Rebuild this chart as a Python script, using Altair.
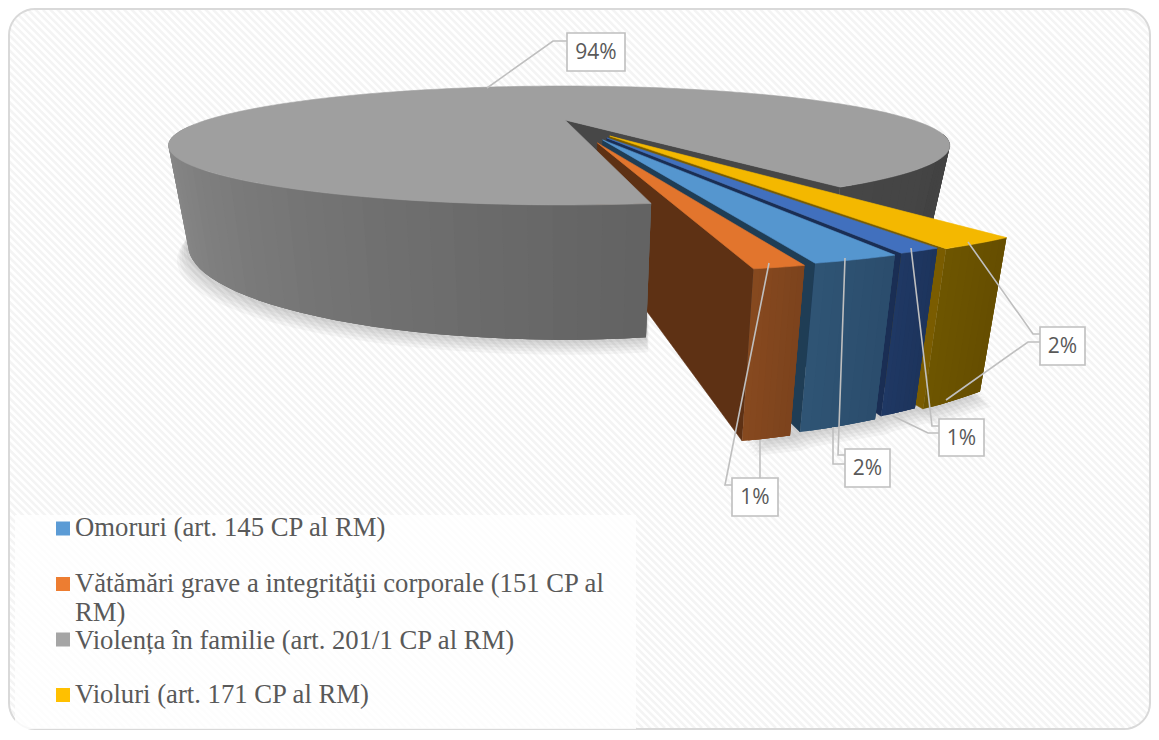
import math
import altair as alt

# ---- values ----
slice_names = ["Vătămări", "Omoruri", "Alte", "Violuri"]
slice_shares = [1.14, 1.92, 0.97, 1.86]
main_share = 94.0
percent_labels = ["94%", "1%", "2%", "1%", "2%"]
legend_lines = [
    "Omoruri (art. 145 CP al RM)",
    "Vătămări grave a integrităţii corporale (151 CP al",
    "RM)",
    "Violența în familie (art. 201/1 CP al RM)",
    "Violuri (art. 171 CP al RM)",
]

# ---- styles and layout ----
W, H = 1143, 722
OX, OY = 8, 8
slice_top = ["#E2752D", "#5596CF", "#4170BE", "#F4B800"]
slice_front = ["#87491F", "#2F5475", "#1F3864", "#6E5500"]
slice_side = ["#5E3114", "#1F3D55", "#1A2E54", "#7A5C00"]
legend_colors = ["#5B9BD5", "#ED7D31", "#A5A5A5", "#FFC000"]
legend_y = [536, 592, 621, 649, 703]
swatch_y = [528.5, 584, None, 639.5, 695]
boxes = [(567, 33, 625, 71), (732, 478, 778, 516), (845, 449, 890, 487),
         (939, 419, 984, 456), (1040, 327, 1085, 365)]
leaders = [
    [(487, 88), (553, 41), (567, 41)],
    [(769, 263), (725, 485), (732, 485)],
    [(760, 440), (760, 478)],
    [(845, 258), (838, 455), (845, 455)],
    [(833, 427), (833, 464), (845, 464)],
    [(911, 248), (932, 426), (939, 426)],
    [(893, 416), (928, 433), (939, 433)],
    [(968, 242), (1033, 334), (1040, 334)],
    [(946, 400), (1028, 342), (1040, 342)],
]

# ---- perspective model of the pie ----
CX, K, A, B, RX = 565, 0.4286, 120, -2.9, 353
explode_dist = [0.40, 0.36, 0.335, 0.31]
explode_dir = [11, 14.6, 17.8, 21]
slice_radius = [0.945, 0.98, 1.0, 1.03]
slice_start = [9.4, 13.1, 19.6, 22.5]
main_mode = True


def top(u, s):
    w = 1 - K * s
    skew = 1.0
    if main_mode:
        skew = 0.985 if u > 0 else 1.015
    return (CX + RX * skew * u / w, (A + B * s) / w)


def bottom(u, s):
    w = 1 - K * s
    x, y = top(u, s)
    shrink = 0.94 if x > CX else 0.95
    return (CX + (x - CX) * shrink, y + (77 + 8 * (1 - s)) / w)


def pol(theta, r=1.0, du=0.0, ds=0.0):
    t = math.radians(theta)
    return (r * math.sin(t) + du, r * math.cos(t) + ds)


def span(a, b, n):
    return [a + (b - a) * i / n for i in range(n + 1)]


def mix(c1, c2, f):
    v = [int(c1[i:i + 2], 16) + (int(c2[i:i + 2], 16) - int(c1[i:i + 2], 16)) * f for i in (1, 3, 5)]
    return "#%02x%02x%02x" % tuple(int(round(x)) for x in v)


features = []


def poly(points, fill, op=1.0, stroke=None, sw=0.6):
    ring = [list(p) for p in points]
    ring.append(ring[0])
    features.append({"type": "Feature", "geometry": {"type": "Polygon", "coordinates": [ring]},
                     "properties": {"fill": fill, "op": op, "stroke": stroke or fill, "sw": sw}})


def wall(a, b, c1, c2, n, r=1.0, du=0.0, ds=0.0):
    # each strip runs on under the next one, so no seam shows between them
    angles = span(a, b, n)
    for i in range(n):
        p = pol(angles[i], r, du, ds)
        mids = [pol(t, r, du, ds) for t in angles[i + 1:i + 4]]
        ring = [top(*p)] + [top(*m) for m in mids] + [bottom(*m) for m in reversed(mids)] + [bottom(*p)]
        poly(ring, mix(c1, c2, (i + 0.5) / n), 1.0, "none", 0)


gap = (100 - main_share) * 3.6
start = 8.2
gap_end = start + gap

# shadows
main_ang = span(262, 360 + start, 60)
for k, sp in enumerate([3, 6, 9, 12, 15]):
    pts = [bottom(*pol(t)) for t in main_ang]
    poly([(x + (565 - x) * -0.002 * sp, y + sp) for x, y in pts] + [(650, 200), (300, 150)], "#000000", 0.035, "none", 0)

# right part of main pie
wall(gap_end, 75, "#464646", "#424242", 24)
ci = pol(0, 0)
e1 = pol(gap_end)
poly([top(*ci), top(*e1), bottom(*e1), bottom(*ci)], "#474747")

# exploded slices, back to front
main_mode = False
items = []
for i, sh in enumerate(slice_shares):
    a, b = slice_start[i], slice_start[i] + sh * 3.6
    d = math.radians(explode_dir[i])
    items.append((i, a, b, explode_dist[i] * math.sin(d), explode_dist[i] * math.cos(d), slice_radius[i]))

shadow_pts = []
for i, a, b, du, ds, r in items:
    shadow_pts += [bottom(*pol(t, r, du, ds)) for t in (a, b)]
for sp in (3, 6, 9, 12, 15):
    poly([(x + sp * 0.8, y + sp) for x, y in reversed(shadow_pts)] + [(900, 260), (760, 280)], "#000000", 0.035, "none", 0)

for i, a, b, du, ds, r in reversed(items):
    T = (du, ds)
    Ao = pol(a, r, du, ds)
    poly([top(*T), top(*Ao), bottom(*Ao), bottom(*T)], slice_side[i])
    wall(a, b, slice_front[i], mix(slice_front[i], "#000000", 0.08), 8, r, du, ds)
    poly([top(*T)] + [top(*pol(t, r, du, ds)) for t in span(a, b, 8)], slice_top[i])

# left part of main pie
main_mode = True
wall(275, 360 + start, "#949494", "#626262", 40)
poly([top(*ci)] + [top(*pol(t)) for t in span(gap_end, 360 + start, 180)], "#9F9F9F")

pie_data = alt.InlineData(values={"type": "FeatureCollection", "features": features},
                          format=alt.DataFormat(property="features", type="json"))

proj = dict(type="identity")


# ---- background: rounded panel and diagonal stripes ----
L, R, T_, BOT, RAD = 9, 1150, 9, 729, 26


def inside(x, y):
    if not (L <= x <= R and T_ <= y <= BOT):
        return False
    cx = min(max(x, L + RAD), R - RAD)
    cy = min(max(y, T_ + RAD), BOT - RAD)
    return (x - cx) ** 2 + (y - cy) ** 2 <= RAD ** 2


stripes = []
c = -BOT
while c < R:
    pts = [(x, x - c) for x in range(L, R + 1) if inside(x, x - c)]
    if len(pts) > 1:
        stripes.append([list(pts[0]), list(pts[-1])])
    c += 7.4


def corner(cx, cy, a0):
    return [[cx + RAD * math.cos(math.radians(t)), cy + RAD * math.sin(math.radians(t))] for t in span(a0, a0 + 90, 10)]


border = corner(L + RAD, T_ + RAD, 180) + corner(R - RAD, T_ + RAD, 270) + corner(R - RAD, BOT - RAD, 0) + corner(L + RAD, BOT - RAD, 90)
border.append(border[0])


def geo(feats):
    return alt.InlineData(values=feats, format=alt.DataFormat(type="json"))


def feat(kind, coords):
    return {"type": "Feature", "geometry": {"type": kind, "coordinates": coords}, "properties": {}}


# an invisible frame makes the projection's fit an exact 1:1 pixel mapping
frame = [[OX, OY], [OX + W, OY], [OX + W, OY + H], [OX, OY + H], [OX, OY]]
frame_chart = alt.Chart(geo([feat("Polygon", [frame])])).mark_geoshape(
    fillOpacity=0, strokeOpacity=0).project(**proj)

stripe_chart = alt.Chart(geo([feat("MultiLineString", stripes)])).mark_geoshape(
    filled=False, stroke="#F4F4F4", strokeWidth=2.6).project(**proj)

border_chart = alt.Chart(geo([feat("LineString", border)])).mark_geoshape(
    filled=False, stroke="#D9D9D9", strokeWidth=2).project(**proj)

legend_box = [[15, 515], [636, 515], [636, 729], [15, 729], [15, 515]]
legend_box_chart = alt.Chart(geo([feat("Polygon", [legend_box])])).mark_geoshape(
    fill="#FFFFFF", fillOpacity=0.82, strokeWidth=0).project(**proj)

pie_chart = alt.Chart(pie_data).mark_geoshape().encode(
    fill=alt.Fill("properties.fill:N", scale=None, legend=None),
    fillOpacity=alt.FillOpacity("properties.op:Q", scale=None, legend=None),
    stroke=alt.Stroke("properties.stroke:N", scale=None, legend=None),
    strokeWidth=alt.StrokeWidth("properties.sw:Q", scale=None, legend=None),
).project(**proj)

leader_chart = alt.Chart(geo([feat("LineString", [list(p) for p in l]) for l in leaders])).mark_geoshape(
    filled=False, stroke="#BFBFBF", strokeWidth=1.6).project(**proj)

box_features = [feat("Polygon", [[[a, b], [c_, b], [c_, d], [a, d], [a, b]]]) for a, b, c_, d in boxes]
box_chart = alt.Chart(geo(box_features)).mark_geoshape(
    fill="#FFFFFF", stroke="#BFBFBF", strokeWidth=1.6).project(**proj)

xs = alt.Scale(domain=[OX, OX + W], range=[0, W])
ys = alt.Scale(domain=[OY, OY + H], range=[0, H])
X = lambda f: alt.X(f, scale=xs, axis=None)
Y = lambda f: alt.Y(f, scale=ys, axis=None)

pct = alt.Chart(alt.Data(values=[{"t": t, "x": (b[0] + b[2]) / 2, "y": (b[1] + b[3]) / 2 + 1} for t, b in zip(percent_labels, boxes)])).mark_text(
    font="Open Sans", fontSize=21, color="#595959", baseline="middle", align="center").encode(x=X("x:Q"), y=Y("y:Q"), text="t:N")

leg_text = alt.Chart(alt.Data(values=[{"t": t, "x": 75, "y": y} for t, y in zip(legend_lines, legend_y)])).mark_text(
    font="Liberation Serif", fontSize=26.7, color="#595959", baseline="alphabetic", align="left").encode(x=X("x:Q"), y=Y("y:Q"), text="t:N")

sw_y = [y for y in swatch_y if y is not None]
leg_sw = alt.Chart(alt.Data(values=[{"c": c_, "x": 63, "y": y} for c_, y in zip(legend_colors, sw_y)])).mark_square(
    size=196, opacity=1).encode(x=X("x:Q"), y=Y("y:Q"), color=alt.Color("c:N", scale=None, legend=None))

chart = alt.layer(frame_chart, stripe_chart, border_chart, legend_box_chart, pie_chart, leader_chart, box_chart, pct, leg_sw, leg_text).properties(
    width=W, height=H, padding=0, autosize=alt.AutoSizeParams(type="none")
).configure_view(stroke=None)

chart.save("out.html", embed_options={"renderer": "svg", "actions": False})
